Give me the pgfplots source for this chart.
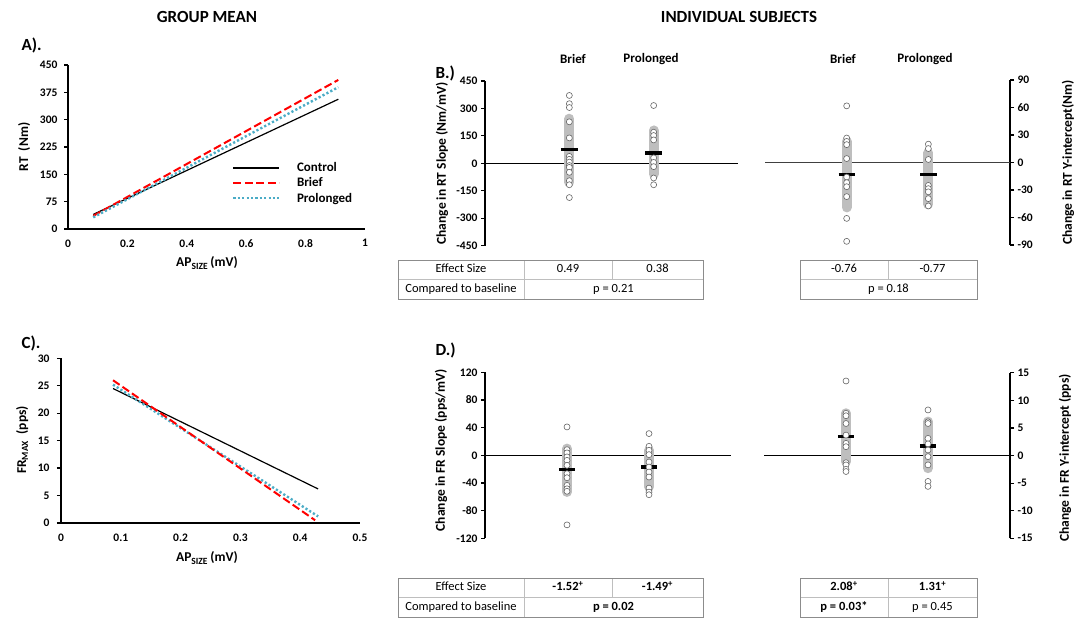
\documentclass[border=0pt]{standalone}
\usepackage{fontspec}
\setmainfont{Carlito}
\usepackage{pgfplots}
\pgfplotsset{compat=1.18}
\definecolor{pblue}{RGB}{75,172,198}
\definecolor{bargray}{RGB}{190,190,190}
\definecolor{tdark}{RGB}{140,140,140}
\definecolor{tlight}{RGB}{190,190,190}
\newcommand{\tk}{\fontsize{11.5}{12}\selectfont\bfseries}
\newcommand{\lb}{\fontsize{13.5}{15}\selectfont\bfseries}
\newcommand{\lgf}{\fontsize{13}{14}\selectfont\bfseries}
\newcommand{\tb}{\fontsize{12.5}{14}\selectfont}
\newcommand{\hd}{\fontsize{17}{19}\selectfont\bfseries}
\pgfplotsset{
  every non boxed x axis/.append style={x axis line style={-}},
  every non boxed y axis/.append style={y axis line style={-}, ytick align=outside},
  base/.style={scale only axis, clip=false,
    axis line style={-, line width=1.5pt, black},
    tick style={line width=1.2pt, black},
    major tick length=4pt,
    tick align=outside,
    ticklabel style={font=\tk},
    /pgf/number format/assume math mode=true,
    label style={font=\lb},
  },
  ind/.style={base, xmin=0, xmax=3, axis x line=none, xtick=\empty},
  yl/.style 2 args={every axis y label/.style={at={(axis description cs:#1,#2)}, rotate=90, anchor=center, font=\lb}},
  xl/.style 2 args={every axis x label/.style={at={(axis description cs:#1,#2)}, anchor=center, font=\lb}},
  pts/.style={only marks, mark=*, mark size=3pt, mark options={fill=white, draw=black!60, line width=0.6pt}},
  sd/.style={no marks, line width=10pt, line cap=round, bargray},
  mn/.style={no marks, line width=3.5pt, black},
  zl/.style={no marks, line width=1.3pt, black},
}
\tikzset{cell/.style={font=\tb, text height=8.5pt, text depth=2.5pt, inner sep=0pt}}
\begin{document}
\begin{tikzpicture}
\path[use as bounding box] (0pt,0pt) rectangle (1075pt,618pt);

% titles
\node[font=\hd] at (207pt,601pt) {GROUP MEAN};
\node[font=\hd] at (739pt,601pt) {INDIVIDUAL SUBJECTS};
\node[font=\hd, anchor=west] at (18pt,573pt) {A).};
\node[font=\hd, anchor=west] at (18pt,275pt) {C).};
\node[font=\hd, anchor=west] at (432pt,545pt) {B.)};
\node[font=\hd, anchor=west] at (432pt,268pt) {D.)};
\node[font=\lgf] at (573pt,559pt) {Brief};
\node[font=\lgf] at (651pt,559pt) {Prolonged};
\node[font=\lgf] at (843pt,559pt) {Brief};
\node[font=\lgf] at (925pt,559pt) {Prolonged};

% Panel A
\begin{axis}[base, at={(68pt,389pt)}, anchor=south west, width=297pt, height=164pt,
  xmin=0, xmax=1, ymin=0, ymax=450, axis x line=bottom, axis y line=left,
  xtick={0,0.2,0.4,0.6,0.8,1}, ytick={0,75,150,225,300,375,450}, xtick style={draw=none},
  xticklabel style={yshift=-5pt}, yticklabel style={xshift=-3pt},
  xl={0.468}{-0.207}, yl={-0.148}{0.5},
  xlabel={AP\textsubscript{SIZE}\,(mV)}, ylabel={RT\ \ (Nm)},
  legend style={at={(0.552,0.415)}, anchor=north west, draw=none, fill=none, font=\lgf,
    inner sep=0pt, nodes={inner sep=1.5pt}, row sep=1.5pt, column sep=15pt},
  legend cell align=left,
  legend image code/.code={\draw[#1] (0pt,0pt) -- (46pt,0pt);}]
\addplot[black, line width=1.2pt] coordinates {(0.085,40) (0.91,356)};
\addlegendentry{Control}
\addplot[red, line width=2pt, dash pattern=on 8pt off 3.5pt] coordinates {(0.085,36) (0.91,409)};
\addlegendentry{Brief}
\addplot[pblue, line width=2.4pt, dash pattern=on 2.2pt off 2.2pt] coordinates {(0.085,32) (0.91,389)};
\addlegendentry{Prolonged}
\end{axis}

% Panel C
\begin{axis}[base, at={(61pt,95pt)}, anchor=south west, width=299pt, height=164.7pt,
  xmin=0, xmax=0.5, ymin=0, ymax=30, axis x line=bottom, axis y line=left,
  xtick={0,0.1,0.2,0.3,0.4,0.5}, ytick={0,5,10,15,20,25,30}, xtick style={draw=none},
  xticklabel style={yshift=-5pt}, yticklabel style={xshift=-4pt},
  xl={0.488}{-0.213}, yl={-0.130}{0.504},
  xlabel={AP\textsubscript{SIZE}\,(mV)}, ylabel={FR\textsubscript{MAX}\ \ (pps)}]
\addplot[black, line width=1.2pt] coordinates {(0.087,24.5) (0.43,6.2)};
\addplot[pblue, line width=2.4pt, dash pattern=on 2.2pt off 2.2pt] coordinates {(0.087,25.2) (0.43,1.2)};
\addplot[red, line width=2pt, dash pattern=on 8pt off 3.5pt] coordinates {(0.087,26) (0.425,0.5)};
\end{axis}

% Panel B left
\begin{axis}[ind, at={(485pt,372.3pt)}, anchor=south west, width=253pt, height=164.7pt,
  ymin=-450, ymax=450, ytick={-450,-300,-150,0,150,300,450}, axis y line=left,
  yl={-0.170}{0.5},
  ylabel={Change in RT Slope (Nm/mV)}]
\addplot[zl] coordinates {(0,0) (3,0)};
\addplot[sd] coordinates {(1,-104) (1,244)};
\addplot[sd] coordinates {(2,-59) (2,180)};
\addplot[mn] coordinates {(0.9,75) (1.1,75)};
\addplot[mn] coordinates {(1.9,57) (2.1,57)};
\addplot[pts] coordinates {(1,371) (1,326) (1,305) (1,227) (1,139) (1,38) (1,22) (1,7) (1,-12) (1,-22) (1,-49) (1,-95) (1,-117) (1,-187)};
\addplot[pts] coordinates {(2,316) (2,170) (2,152) (2,128) (2,30) (2,5) (2,-18) (2,-80) (2,-117)};
\end{axis}

% Panel B right
\begin{axis}[ind, at={(765pt,373pt)}, anchor=south west, width=245pt, height=165pt,
  ymin=-90, ymax=90, ytick={-90,-60,-30,0,30,60,90}, axis y line=right,
  yl={1.237}{0.5},
  ylabel={Change in RT Y-intercept(Nm)}]
\addplot[no marks, line width=1.8pt, black!75] coordinates {(0,0) (3,0)};
\addplot[sd] coordinates {(1,-49) (1,23)};
\addplot[sd] coordinates {(2,-45.6) (2,10.6)};
\addplot[mn] coordinates {(0.9,-13) (1.1,-13)};
\addplot[mn] coordinates {(1.9,-13) (2.1,-13)};
\addplot[pts] coordinates {(1,61.8) (1,26.7) (1,23) (1,19.5) (1,4.3) (1,-15.9) (1,-22) (1,-26.4) (1,-37.2) (1,-61) (1,-86)};
\addplot[pts] coordinates {(2,20) (2,15.2) (2,3.3) (2,-25) (2,-28.5) (2,-32) (2,-39.4) (2,-47.4)};
\end{axis}

% Panel D left
\begin{axis}[ind, at={(485pt,79.7pt)}, anchor=south west, width=246pt, height=166pt,
  ymin=-120, ymax=120, ytick={-120,-80,-40,0,40,80,120}, axis y line=left,
  yl={-0.179}{0.53},
  ylabel={Change in FR Slope (pps/mV)}]
\addplot[zl] coordinates {(0,0) (3,0)};
\addplot[sd] coordinates {(1,-53) (1,9.7)};
\addplot[sd] coordinates {(2,-45.7) (2,7.2)};
\addplot[mn] coordinates {(0.9,-20.8) (1.1,-20.8)};
\addplot[mn] coordinates {(1.9,-17) (2.1,-17)};
\addplot[pts] coordinates {(1,41) (1,8.2) (1,3.4) (1,-2.4) (1,-7.3) (1,-14.5) (1,-26.6) (1,-32.4) (1,-43.5) (1,-48.4) (1,-52) (1,-100.6)};
\addplot[pts] coordinates {(2,31.4) (2,13) (2,7.3) (2,1) (2,-9.7) (2,-17) (2,-24.2) (2,-31.4) (2,-47.4) (2,-53.2) (2,-57)};
\end{axis}

% Panel D right
\begin{axis}[ind, at={(764pt,79.7pt)}, anchor=south west, width=246pt, height=165.6pt,
  ymin=-15, ymax=15, ytick={-15,-10,-5,0,5,10,15}, axis y line=right,
  yl={1.224}{0.485},
  ylabel={Change in FR Y-intercept (pps)}]
\addplot[zl] coordinates {(0,0) (3,0)};
\addplot[sd] coordinates {(1,-1.1) (1,7.65)};
\addplot[sd] coordinates {(2,-2.3) (2,6.15)};
\addplot[mn] coordinates {(0.9,3.4) (1.1,3.4)};
\addplot[mn] coordinates {(1.9,1.75) (2.1,1.75)};
\addplot[pts] coordinates {(1,13.5) (1,7.65) (1,7.2) (1,5.8) (1,3.7) (1,2.2) (1,1.6) (1,-1.3) (1,-1.7) (1,-2.5) (1,-2.9)};
\addplot[pts] coordinates {(2,8.25) (2,6.1) (2,5.8) (2,3.1) (2,2.1) (2,1.0) (2,-0.2) (2,-1.7) (2,-4.7) (2,-5.6)};
\end{axis}

% Tables B
\draw[tlight, line width=0.8pt] (398pt,338.5pt) -- (703pt,338.5pt);
\draw[tlight, line width=0.8pt] (524pt,319pt) -- (524pt,358pt);
\draw[tlight, line width=0.8pt] (612pt,338.5pt) -- (612pt,358pt);
\draw[tdark, line width=0.9pt] (398pt,319pt) rectangle (703pt,358pt);
\node[cell] at (461pt,348.25pt) {Effect Size};
\node[cell] at (568pt,348.25pt) {0.49};
\node[cell] at (657.5pt,348.25pt) {0.38};
\node[cell] at (461pt,328.75pt) {Compared to baseline};
\node[cell] at (613.5pt,328.75pt) {p = 0.21};

\draw[tlight, line width=0.8pt] (800pt,338.5pt) -- (977pt,338.5pt);
\draw[tlight, line width=0.8pt] (888pt,338.5pt) -- (888pt,358pt);
\draw[tdark, line width=0.9pt] (800pt,319pt) rectangle (977pt,358pt);
\node[cell] at (844pt,348.25pt) {-0.76};
\node[cell] at (932.5pt,348.25pt) {-0.77};
\node[cell] at (888.5pt,328.75pt) {p = 0.18};

% Tables D
\draw[tlight, line width=0.8pt] (398pt,20.5pt) -- (703pt,20.5pt);
\draw[tlight, line width=0.8pt] (524pt,1pt) -- (524pt,40pt);
\draw[tlight, line width=0.8pt] (612pt,20.5pt) -- (612pt,40pt);
\draw[tdark, line width=0.9pt] (398pt,1pt) rectangle (703pt,40pt);
\node[cell] at (461pt,30.25pt) {Effect Size};
\node[cell, font=\tb\bfseries] at (568pt,30.25pt) {-1.52\textsuperscript{+}};
\node[cell, font=\tb\bfseries] at (657.5pt,30.25pt) {-1.49\textsuperscript{+}};
\node[cell] at (461pt,10.75pt) {Compared to baseline};
\node[cell, font=\tb\bfseries] at (613.5pt,10.75pt) {p = 0.02};

\draw[tlight, line width=0.8pt] (800pt,20.5pt) -- (977pt,20.5pt);
\draw[tlight, line width=0.8pt] (888pt,1pt) -- (888pt,40pt);
\draw[tdark, line width=0.9pt] (800pt,1pt) rectangle (977pt,40pt);
\node[cell, font=\tb\bfseries] at (844pt,30.25pt) {2.08\textsuperscript{+}};
\node[cell, font=\tb\bfseries] at (932.5pt,30.25pt) {1.31\textsuperscript{+}};
\node[cell, font=\tb\bfseries] at (844pt,10.75pt) {p = 0.03*};
\node[cell] at (932.5pt,10.75pt) {p = 0.45};
\end{tikzpicture}
\end{document}
